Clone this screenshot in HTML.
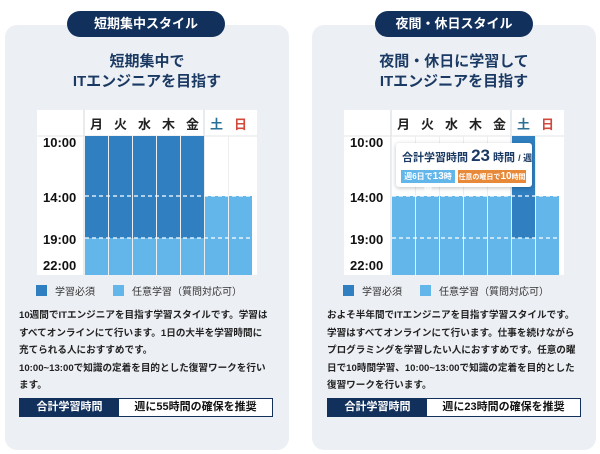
<!DOCTYPE html>
<html><head><meta charset="utf-8">
<style>
*{margin:0;padding:0;box-sizing:border-box}
body{width:600px;height:454px;background:#fff;position:relative;overflow:hidden;font-family:"Liberation Sans","Noto Sans CJK JP",sans-serif;color:#222}
.card{position:absolute;top:25px;width:284px;height:425px;background:#eceff4;border-radius:12px}
.pill{position:absolute;top:11px;height:26px;width:158px;background:#12305c;color:#fff;border-radius:13px;font-weight:bold;font-size:13px;text-align:center;line-height:26px}
.title{position:absolute;width:284px;text-align:center;font-weight:bold;font-size:15px;color:#1b3a63;line-height:20px}
.legend{position:absolute;font-size:10px;color:#333;top:283px}
.legend span.sq{display:inline-block;width:11px;height:11px;vertical-align:-1px;margin-right:8px}
.desc{position:absolute;font-size:9.6px;font-weight:bold;line-height:17.5px;color:#222;top:307px}
.total{position:absolute;top:398px;height:19px;width:254px;border:1px solid #12305c;background:#fff;font-weight:bold;font-size:11px;line-height:17px}
.total .l{position:absolute;left:0;top:0;width:99px;height:17px;background:#12305c;color:#fff;text-align:center}
.total .r{position:absolute;left:99px;right:0;top:0;text-align:center;color:#111}
svg{position:absolute;left:0;top:0}
</style></head><body>
<div class="card" style="left:5px"></div>
<div class="card" style="left:312px"></div>
<div class="pill" style="left:67px">短期集中スタイル</div>
<div class="pill" style="left:375px">夜間・休日スタイル</div>
<div class="title" style="left:5px;top:52px">短期集中で<br>ITエンジニアを目指す</div>
<div class="title" style="left:312px;top:52px">夜間・休日に学習して<br>ITエンジニアを目指す</div>

<svg id="chart" width="600" height="454"></svg>

<div class="legend" style="left:36px"><span class="sq" style="background:#2f7fc1"></span>学習必須<span style="display:inline-block;width:18px"></span><span class="sq" style="background:#63b6e9"></span>任意学習（質問対応可）</div>
<div class="legend" style="left:343px"><span class="sq" style="background:#2f7fc1"></span>学習必須<span style="display:inline-block;width:18px"></span><span class="sq" style="background:#63b6e9"></span>任意学習（質問対応可）</div>

<div class="desc" style="left:19px;width:262px">10週間でITエンジニアを目指す学習スタイルです。学習は<br>すべてオンラインにて行います。1日の大半を学習時間に<br>充てられる人におすすめです。<br>10:00~13:00で知識の定着を目的とした復習ワークを行い<br>ます。</div>
<div class="desc" style="left:327px;width:265px">およそ半年間でITエンジニアを目指す学習スタイルです。<br>学習はすべてオンラインにて行います。仕事を続けながら<br>プログラミングを学習したい人におすすめです。任意の曜<br>日で10時間学習、10:00~13:00で知識の定着を目的とした<br>復習ワークを行います。</div>

<div class="total" style="left:19px"><div class="l">合計学習時間</div><div class="r">週に55時間の確保を推奨</div></div>
<div class="total" style="left:327px"><div class="l">合計学習時間</div><div class="r">週に23時間の確保を推奨</div></div>

<div style="position:absolute;left:396px;top:143px;width:136px;height:44px;background:#fff;border-radius:3px;box-shadow:0 1px 4px rgba(0,0,0,.25)">
  <div style="position:absolute;left:6px;top:3px;font-weight:bold;font-size:11px;color:#1b3a63;white-space:nowrap">合計学習時間 <span style="font-size:17px">23</span> 時間 <span style="font-size:9px">/ 週</span></div>
  <div style="position:absolute;left:5px;top:27px;width:54px;height:13px;background:#63b6e9;color:#fff;font-size:8px;font-weight:bold;text-align:center;line-height:13px">週6日で<span style="font-size:10px">13</span>時間</div>
  <div style="position:absolute;left:62px;top:27px;width:68px;height:13px;background:#e8893a;color:#fff;font-size:7px;font-weight:bold;text-align:center;line-height:13px">任意の曜日で<span style="font-size:10px">10</span>時間</div>
</div>

<script>
const days=["月","火","水","木","金","土","日"];
const tickLabels=["10:00","14:00","19:00","22:00"];
const tickHours=[10,14,19,22];
// blocks: [dayIndex, startHour, endHour, type]  type 0=required, 1=optional
const leftBlocks=[[0,10,19,0],[1,10,19,0],[2,10,19,0],[3,10,19,0],[4,10,19,0],
 [0,19,23,1],[1,19,23,1],[2,19,23,1],[3,19,23,1],[4,19,23,1],[5,14,23,1],[6,14,23,1]];
const rightBlocks=[[0,14,23,1],[1,14,23,1],[2,14,23,1],[3,14,23,1],[4,14,23,1],
 [5,10,19,0],[5,19,23,1],[6,14,23,1]];
const NS="http://www.w3.org/2000/svg";
const svg=document.getElementById('chart');
function mk(t,a){const e=document.createElementNS(NS,t);for(const k in a)e.setAttribute(k,a[k]);svg.appendChild(e);return e;}
// piecewise time axis
function yScale(h){const hs=[10,14,19,23],ps=[136,196,238,275];
 for(let i=0;i<hs.length-1;i++){if(h<=hs[i+1]){return ps[i]+(h-hs[i])/(hs[i+1]-hs[i])*(ps[i+1]-ps[i]);}}return 275;}
function xScale(ox,d){return ox+48+d*24;}
function drawGrid(ox,blocks,name){
 const bg=mk('rect',{x:ox,y:110,width:220,height:165,fill:'#fff'});
 
 
 mk('line',{x1:ox,y1:136,x2:ox+220,y2:136,stroke:'#e2e5ea','stroke-width':1});
 mk('line',{x1:ox+47,y1:110,x2:ox+47,y2:275,stroke:'#e2e5ea','stroke-width':1.5});
 mk('line',{x1:xScale(ox,5)-1,y1:110,x2:xScale(ox,5)-1,y2:275,stroke:'#e2e5ea','stroke-width':1.5});
 for(let d=0;d<7;d++){
  if(d!==5) mk('line',{x1:xScale(ox,d)-0.5,y1:136,x2:xScale(ox,d)-0.5,y2:275,stroke:'#eceef2','stroke-width':1});
  const t=mk('text',{x:xScale(ox,d)+11.5,y:129,'text-anchor':'middle','font-size':13,'font-weight':'bold',fill:d===5?'#2a6f96':d===6?'#d2493c':'#222','font-family':'Liberation Sans, Noto Sans CJK JP, sans-serif'});
  t.textContent=days[d];
  
  
 }
 blocks.forEach(b=>{
  const r=mk('rect',{x:xScale(ox,b[0]),y:yScale(b[1]),width:23,height:yScale(b[2])-yScale(b[1]),fill:b[3]===0?'#2f7fc1':'#63b6e9'});
  
  
 });
 [14,19].forEach(h=>{mk('line',{x1:ox+48,y1:yScale(h),x2:ox+220,y2:yScale(h),stroke:'#fff','stroke-width':1.2,'stroke-dasharray':'4 3'});});
 tickHours.forEach((h,i)=>{
  const t=mk('text',{x:ox+6,y:yScale(h)+(i===0?11:6),'font-size':13,'font-weight':'bold',fill:'#111','font-family':'Liberation Sans, sans-serif'});
  if(i===3)t.setAttribute('y',270);
  t.textContent=tickLabels[i];
  
  
 });
}
drawGrid(37,leftBlocks,'short-term');
drawGrid(344,rightBlocks,'night-weekend');
</script>
</body></html>
